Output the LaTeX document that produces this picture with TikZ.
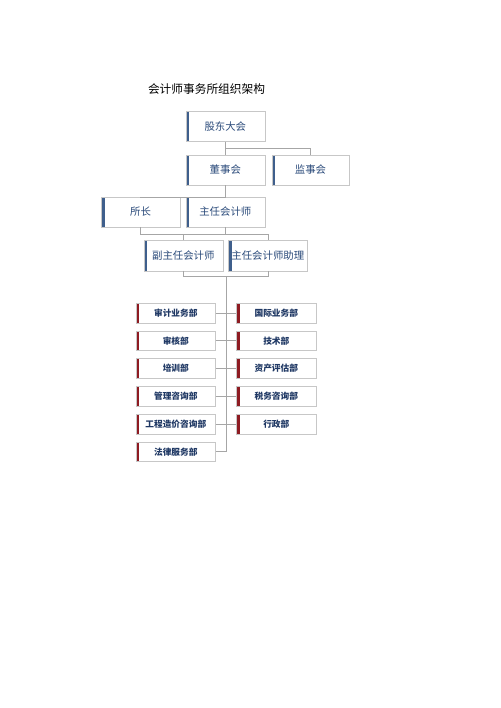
\documentclass[tikz,border=0pt]{standalone}
\usepackage{fontspec}
\newfontfamily\cjk{Noto Sans CJK SC}
\definecolor{barblue}{HTML}{3F5F8C}
\definecolor{barred}{HTML}{8E1B22}
\definecolor{textblue}{HTML}{2A4A7A}
\definecolor{deptblue}{HTML}{1F3864}

\begin{document}
\begin{tikzpicture}[x=1pt,y=-1pt,
   link/.style={draw=black!35,line width=0.6pt},
   topbox/.style={draw=black!22,fill=white,minimum width=79pt,minimum height=30pt,inner sep=0pt,
      text=textblue,font=\cjk\fontsize{10.4}{12}\selectfont,
      path picture={\fill[barblue] (path picture bounding box.south west) rectangle ([xshift=3.5pt]path picture bounding box.north west);}},
   deptbox/.style={draw=black!22,fill=white,minimum width=79.5pt,minimum height=19.7pt,inner sep=0pt,
      text=deptblue,font=\cjk\bfseries\fontsize{8.7}{10}\selectfont,
      path picture={\fill[barred] (path picture bounding box.south west) rectangle ([xshift=3pt]path picture bounding box.north west);}}]
   \useasboundingbox (0,0) rectangle (500,708);
   \node[font=\cjk\fontsize{11.7}{14}\selectfont] (title) at (206.5,89) {会计师事务所组织架构};
   % upper levels
   \node[topbox] (shareholders) at (225.3,126.7) {股东大会};
   \node[topbox] (board) at (225.3,170) {董事会};
   \node[topbox,minimum width=77.6pt] (supervisors) at (310.5,170) {监事会};
   \node[topbox] (director) at (140.5,212) {所长};
   \node[topbox] (chief) at (225.3,212) {主任会计师};
   \node[topbox] (deputy) at (183.3,255.7) {副主任会计师};
   \node[topbox] (assistant) at (267.8,255.7) {主任会计师助理};
   % departments
   \node[deptbox] (audit) at (175.8,313) {审计业务部};
   \node[deptbox] (review) at (175.8,340.7) {审核部};
   \node[deptbox] (training) at (175.8,368.3) {培训部};
   \node[deptbox] (mgmt) at (175.8,396.3) {管理咨询部};
   \node[deptbox] (costing) at (175.8,424.2) {工程造价咨询部};
   \node[deptbox] (legal) at (175.8,451.7) {法律服务部};
   \node[deptbox] (intl) at (276.3,313) {国际业务部};
   \node[deptbox] (tech) at (276.3,340.7) {技术部};
   \node[deptbox] (valuation) at (276.3,368.3) {资产评估部};
   \node[deptbox] (tax) at (276.3,396.3) {税务咨询部};
   \node[deptbox] (admin) at (276.3,424.2) {行政部};
   \coordinate (spinetop) at (226.7,276);
   \coordinate (spinebot) at (226.7,451.7);
   % connectors
   \draw[link] (shareholders.south) -- ++(0,6.6) -| (supervisors.north);
   \draw[link] (shareholders) -- (board);
   \draw[link] (board.south) -- ++(0,11.7) -| (director.north);
   \draw[link] (board) -- (chief);
   \draw[link] (director.south) -- ++(0,7.5) -| (assistant.north);
   \draw[link] (chief.south) -- ++(0,7.5);
   \draw[link] (deputy.north) -- ++(0,-6.5);
   \draw[link] (deputy.south) -- ++(0,5.5) -| (assistant.south);
   \draw[link] (spinetop) -- (spinebot) -- (legal.east);
   \draw[link] (audit) -- (intl);
   \draw[link] (review) -- (tech);
   \draw[link] (training) -- (valuation);
   \draw[link] (mgmt) -- (tax);
   \draw[link] (costing) -- (admin);
\end{tikzpicture}
\end{document}
